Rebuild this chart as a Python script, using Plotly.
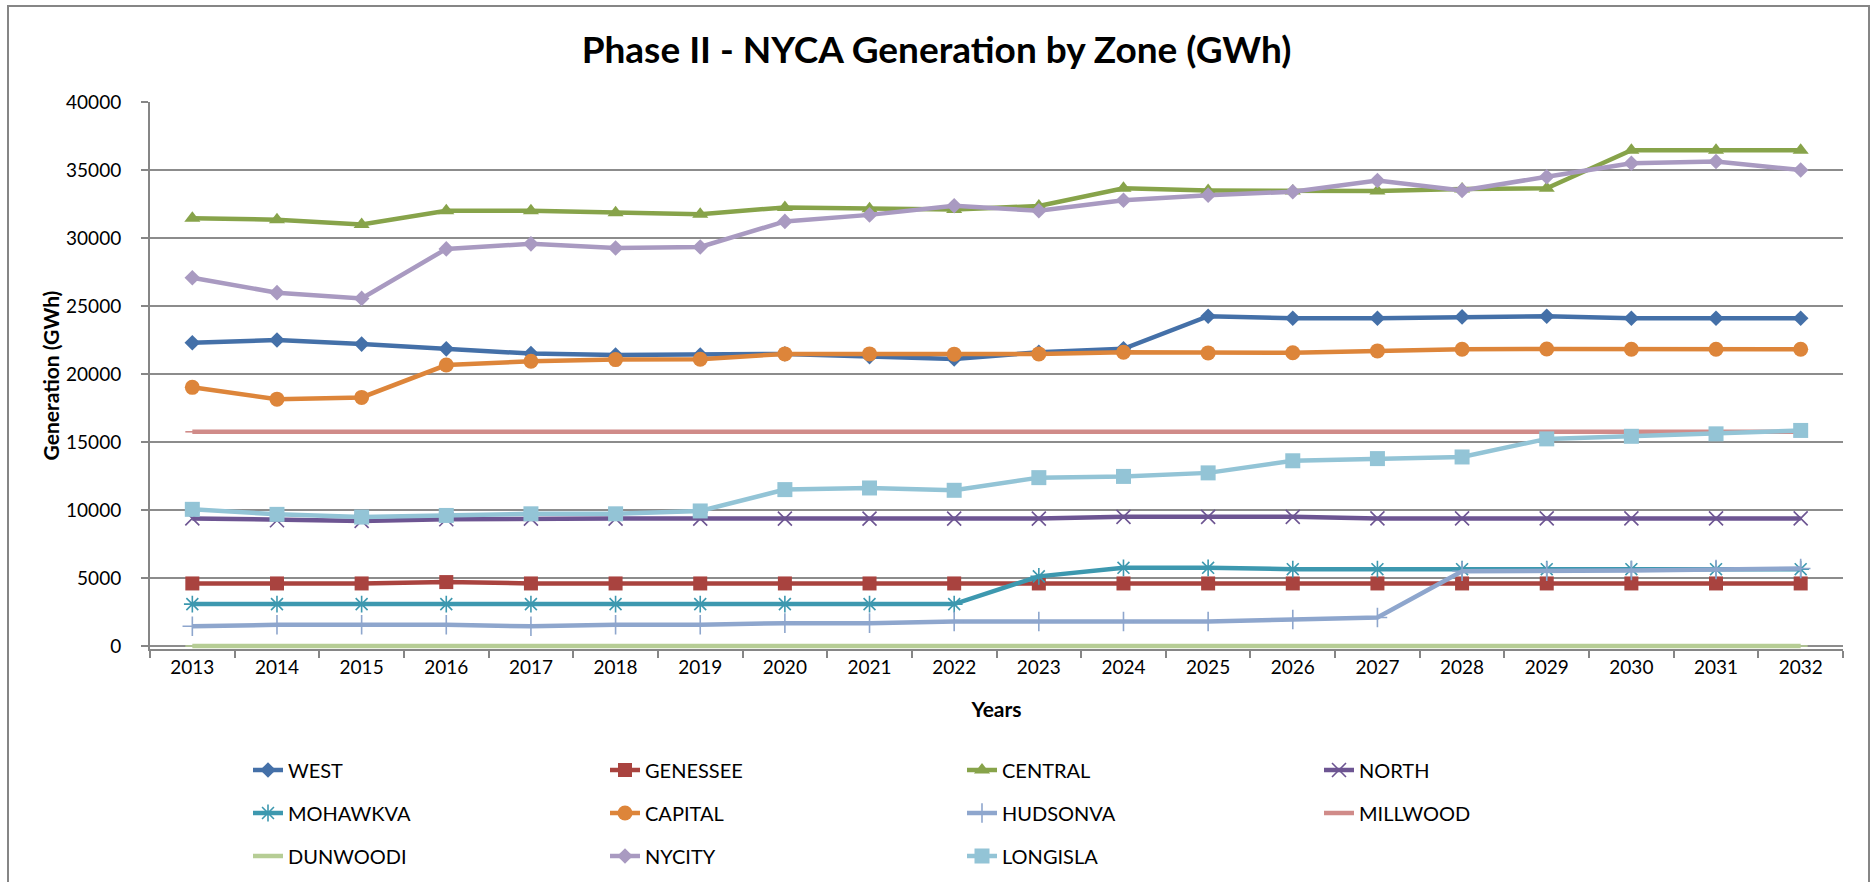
import plotly.graph_objects as go

years = [str(y) for y in range(2013, 2033)]

WEST = [22300, 22500, 22200, 21850, 21500, 21400, 21400, 21480, 21280, 21100,
        21600, 21850, 24250, 24100, 24100, 24200, 24250, 24100, 24100, 24100]
GENESSEE = [4600, 4600, 4600, 4700, 4600, 4600, 4600, 4600, 4600, 4600,
            4600, 4600, 4600, 4600, 4600, 4600, 4600, 4600, 4600, 4600]
CENTRAL = [31450, 31350, 31000, 32000, 32000, 31850, 31750, 32250, 32150, 32100,
           32350, 33650, 33500, 33450, 33450, 33600, 33650, 36450, 36450, 36450]
NORTH = [9380, 9250, 9200, 9320, 9370, 9370, 9370, 9370, 9370, 9370,
         9370, 9500, 9500, 9500, 9380, 9380, 9380, 9380, 9380, 9380]
MOHAWKVA = [3080, 3080, 3080, 3080, 3080, 3080, 3080, 3080, 3080, 3080,
            5120, 5750, 5750, 5650, 5650, 5650, 5650, 5650, 5650, 5650]
CAPITAL = [19020, 18150, 18280, 20660, 20940, 21060, 21080, 21480, 21480, 21460,
           21480, 21600, 21550, 21560, 21700, 21820, 21840, 21820, 21820, 21820]
HUDSONVA = [1450, 1560, 1560, 1560, 1450, 1560, 1560, 1680, 1680, 1800,
            1800, 1800, 1800, 1950, 2100, 5500, 5500, 5550, 5620, 5700]
MILLWOOD = [15750] * 20
DUNWOODI = [0] * 20
NYCITY = [27080, 25980, 25560, 29200, 29570, 29270, 29340, 31220, 31700, 32370,
          32000, 32780, 33150, 33400, 34230, 33500, 34500, 35500, 35620, 35000]
LONGISLA = [10050, 9680, 9480, 9600, 9720, 9720, 9930, 11500, 11620, 11450,
            12380, 12470, 12730, 13620, 13780, 13900, 15230, 15420, 15600, 15850]

series = [
    ("WEST", WEST, "#4470A8", "diamond", 12, "legend"),
    ("GENESSEE", GENESSEE, "#A9433F", "square", 14, "legend"),
    ("CENTRAL", CENTRAL, "#87A34A", "triangle-up", 14, "legend"),
    ("NORTH", NORTH, "#6D5592", "x-thin-open", 14, "legend"),
    ("MOHAWKVA", MOHAWKVA, "#3D98AF", "asterisk-open", 14, "legend2"),
    ("CAPITAL", CAPITAL, "#DD853A", "circle", 15, "legend2"),
    ("HUDSONVA", HUDSONVA, "#8EA6CD", "cross-thin-open", 14, "legend2"),
    ("MILLWOOD", MILLWOOD, "#D08B89", "line-ew-open", 10, "legend2"),
    ("DUNWOODI", DUNWOODI, "#B6CD95", "line-ew-open", 10, "legend3"),
    ("NYCITY", NYCITY, "#A99AC1", "diamond", 12, "legend3"),
    ("LONGISLA", LONGISLA, "#93C4D6", "square", 15, "legend3"),
]

FONT = "Lato, 'Open Sans', sans-serif"

fig = go.Figure()
for name, vals, color, sym, size, leg in series:
    openm = sym.endswith("open")
    fig.add_trace(go.Scatter(
        x=years, y=vals, name=name, mode="lines+markers",
        line=dict(color=color, width=4.5),
        marker=dict(symbol=sym, size=size, color=color,
                    line=dict(color=color, width=1.6 if openm else 0)),
        legend=leg, cliponaxis=False,
    ))

W, H = 1873, 882
L, R, T, B = 150, 30, 102, 233
pw, ph = W - L - R, H - T - B
YMIN = -220


def px_x(p):
    return (p - L) / pw


def px_y(p):
    return (H - B - p) / ph


legend_common = dict(
    orientation="h", xanchor="left", yanchor="middle",
    font=dict(family=FONT, size=20, color="#000000"),
    entrywidth=312, entrywidthmode="pixels",
    bgcolor="rgba(0,0,0,0)", itemclick=False,
)

fig.update_layout(
    width=W, height=H,
    margin=dict(l=L, r=R, t=T, b=B, autoexpand=False),
    paper_bgcolor="white", plot_bgcolor="white",
    title=dict(text="<b>Phase II - NYCA Generation by Zone (GWh)</b>",
               x=0.5, xanchor="center", y=1 - 50 / H, yanchor="middle",
               font=dict(family=FONT, size=37, color="#000000")),
    font=dict(family=FONT, color="#000000"),
    xaxis=dict(type="category", range=[-0.5, 19.5],
               tickson="boundaries", ticks="outside", ticklen=7,
               tickcolor="#868686", tickwidth=1.5,
               showline=True, linecolor="#868686", linewidth=2,
               showgrid=False, layer="below traces",
               tickfont=dict(family=FONT, size=19),
               title=dict(text="<b>Years</b>", standoff=26,
                          font=dict(family=FONT, size=21))),
    yaxis=dict(range=[YMIN, 40000], dtick=5000, tick0=0,
               ticks="outside", ticklen=7, tickcolor="#868686", tickwidth=1.5,
               showline=True, linecolor="#868686", linewidth=2,
               showgrid=True, gridcolor="#8C8C8C", gridwidth=1.5,
               zeroline=False, tickformat="d", layer="below traces",
               ticklabelstandoff=16,
               tickfont=dict(family=FONT, size=19),
               title=dict(text="<b>Generation (GWh)</b>", standoff=1,
                          font=dict(family=FONT, size=21))),
    legend=dict(x=px_x(248), y=px_y(770), **legend_common),
    legend2=dict(x=px_x(248), y=px_y(813), **legend_common),
    legend3=dict(x=px_x(248), y=px_y(856), **legend_common),
    shapes=[dict(type="rect", xref="paper", yref="paper",
                 x0=px_x(8), x1=px_x(1869), y0=px_y(895), y1=px_y(6),
                 line=dict(color="#868686", width=2), layer="below")],
)

fig.write_html("out.html", config={"displayModeBar": False},
               post_script="document.body.style.margin='0px';")
